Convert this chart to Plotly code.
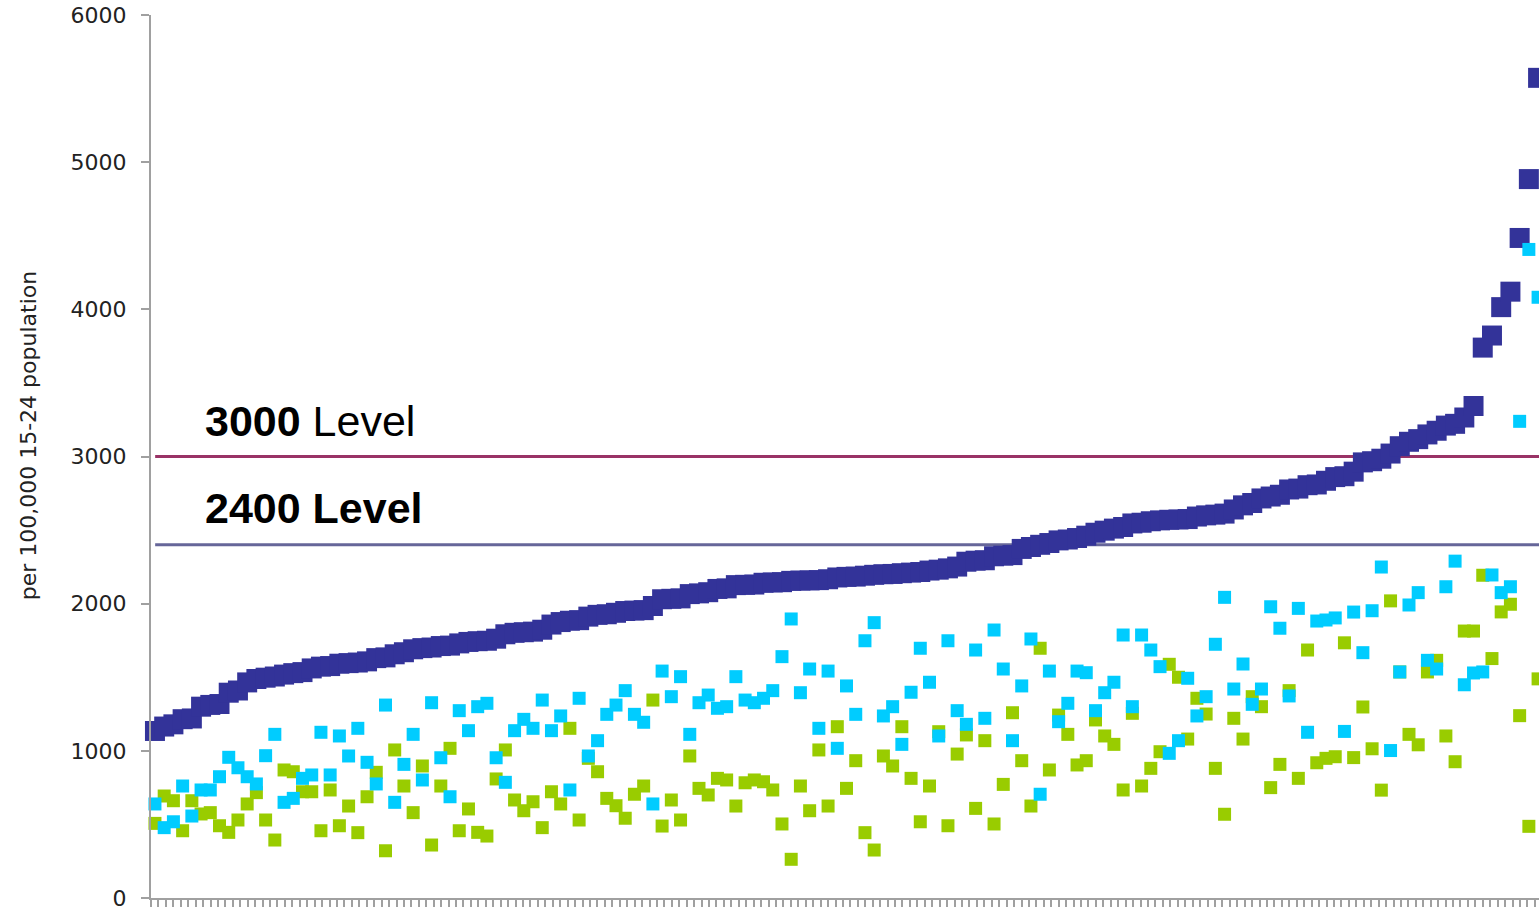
import plotly.graph_objects as go

# ---------------- data ----------------
DARK = [1135, 1165, 1180, 1215, 1220, 1300, 1312, 1318, 1395, 1410,
        1465, 1488, 1497, 1505, 1518, 1528, 1535, 1560, 1572, 1576,
        1592, 1596, 1600, 1608, 1630, 1635, 1656, 1670, 1690, 1698,
        1702, 1712, 1715, 1730, 1740, 1745, 1748, 1762, 1792, 1802,
        1806, 1810, 1823, 1858, 1875, 1884, 1888, 1912, 1924, 1928,
        1938, 1950, 1953, 1956, 1984, 2030, 2033, 2036, 2065, 2070,
        2078, 2100, 2104, 2126, 2128, 2130, 2142, 2144, 2146, 2155,
        2157, 2158, 2160, 2166, 2178, 2182, 2184, 2190, 2196, 2200,
        2202, 2207, 2211, 2215, 2225, 2231, 2240, 2252, 2285, 2292,
        2295, 2322, 2326, 2330, 2372, 2385, 2400, 2412, 2430, 2436,
        2446, 2462, 2482, 2496, 2510, 2521, 2545, 2550, 2560, 2566,
        2570, 2572, 2575, 2592, 2600, 2605, 2612, 2640, 2668, 2684,
        2715, 2728, 2740, 2776, 2782, 2805, 2810, 2835, 2860, 2866,
        2897, 2960, 2968, 2985, 3020, 3070, 3100, 3118, 3150, 3175,
        3210, 3222, 3265, 3343, 3740, 3822, 4015, 4120, 4485, 4885,
        5573]

CYAN = [639, 478, 518, 761, 557, 734, 734, 824, 956, 885,
        824, 775, 967, 1112, 650, 677, 813, 836, 1126, 836,
        1101, 965, 1153, 922, 775, 1311, 650, 908, 1112, 802,
        1327, 953, 688, 1273, 1137, 1300, 1323, 953, 786, 1137,
        1214, 1153, 1345, 1137, 1237, 734, 1357, 965, 1069, 1248,
        1311, 1409, 1248, 1194, 639, 1542, 1368, 1504, 1112, 1327,
        1379, 1289, 1300, 1504, 1345, 1327, 1357, 1409, 1640, 1896,
        1395, 1556, 1153, 1542, 1017, 1441, 1248, 1748, 1871, 1237,
        1300, 1044, 1398, 1697, 1466, 1101, 1748, 1273, 1180, 1685,
        1221, 1821, 1556, 1069, 1441, 1760, 705, 1542, 1198, 1323,
        1542, 1531, 1273, 1395, 1466, 1787, 1300, 1787, 1685, 1572,
        983, 1069, 1493, 1237, 1368, 1724, 2043, 1420, 1590, 1316,
        1420, 1979, 1833, 1373, 1968, 1126, 1882, 1889, 1903, 1132,
        1943, 1667, 1952, 2249, 1002, 1536, 1991, 2075, 1615, 1556,
        2115, 2289, 1449, 1529, 1536, 2195, 2075, 2115, 3239, 4407,
        4082]

GREEN = [507, 693, 661, 457, 661, 571, 580, 491, 446, 530,
         639, 716, 530, 394, 870, 858, 722, 722, 457, 734,
         491, 625, 444, 688, 854, 321, 1006, 761, 580, 897,
         360, 761, 1017, 457, 605, 446, 421, 809, 1006, 666,
         593, 654, 478, 722, 639, 1153, 530, 949, 858, 677,
         627, 542, 705, 761, 1345, 489, 666, 530, 965, 745,
         700, 813, 802, 625, 783, 802, 790, 734, 503, 263,
         761, 593, 1006, 625, 1164, 745, 933, 444, 326, 965,
         897, 1164, 813, 518, 761, 1130, 491, 978, 1108, 609,
         1069, 503, 772, 1259, 933, 625, 1697, 870, 1243, 1112,
         904, 933, 1210, 1101, 1044, 734, 1255, 761, 881, 994,
         1588, 1500, 1080, 1357, 1250, 881, 569, 1221, 1080, 1368,
         1300, 750, 908, 1409, 813, 1685, 919, 949, 960, 1734,
         954, 1298, 1014, 733, 2019, 1536, 1112, 1041, 1536, 1615,
         1101, 926, 1814, 1814, 2193, 1627, 1944, 1996, 1239, 487,
         1489]

LEVELS = [3000, 2400]
LEVEL_TEXT = ["<b>3000</b> Level", "<b>2400 Level</b>"]
Y_TICKS = [0, 1000, 2000, 3000, 4000, 5000, 6000]
Y_TITLE = "per 100,000 15-24 population"

# ---------------- styling ----------------
DARK_COLOR = "#333399"
CYAN_COLOR = "#00CCFF"
GREEN_COLOR = "#99CC00"
LEVEL_COLORS = ["#993366", "#666699"]
AXIS_COLOR = "#A0A0A0"

x = list(range(1, len(DARK) + 1))
X_RANGE = [0.57, 151.1]
N_XTICKS = 187
TICK_STEP = 0.8069
xticks = [X_RANGE[0] + j * TICK_STEP for j in range(N_XTICKS)]

fig = go.Figure()
fig.add_trace(go.Scatter(x=x, y=DARK, mode="markers", cliponaxis=False,
                         marker=dict(symbol="square", size=20, color=DARK_COLOR,
                                     line=dict(width=0))))
fig.add_trace(go.Scatter(x=x, y=GREEN, mode="markers", cliponaxis=False,
                         marker=dict(symbol="square", size=13, color=GREEN_COLOR,
                                     line=dict(width=0))))
fig.add_trace(go.Scatter(x=x, y=CYAN, mode="markers", cliponaxis=False,
                         marker=dict(symbol="square", size=13, color=CYAN_COLOR,
                                     line=dict(width=0))))

for lvl, col in zip(LEVELS, LEVEL_COLORS):
    fig.add_shape(type="line", xref="paper", yref="y", x0=0.003, x1=1.0,
                  y0=lvl, y1=lvl, line=dict(color=col, width=3), layer="below")

label_y = [3241, 2653]
for txt, yy in zip(LEVEL_TEXT, label_y):
    fig.add_annotation(text=txt, xref="paper", yref="y", x=0.0375, y=yy,
                       xanchor="left", yanchor="middle", showarrow=False,
                       font=dict(family="Liberation Sans, Arial", size=43, color="#000000"))

fig.add_annotation(text=Y_TITLE, xref="paper", yref="paper", x=-0.0886, y=0.524,
                   xanchor="center", yanchor="middle", textangle=-90, showarrow=False,
                   font=dict(family="DejaVu Sans, Verdana", size=22, color="#222222"))

fig.update_xaxes(range=X_RANGE, tickmode="array", tickvals=xticks,
                 ticks="outside", ticklen=7, tickwidth=2, tickcolor=AXIS_COLOR,
                 showticklabels=False, showline=True, linecolor=AXIS_COLOR, linewidth=2,
                 showgrid=False, zeroline=False)
fig.update_yaxes(range=[0, 6000], tickmode="array", tickvals=Y_TICKS,
                 ticktext=[str(v) for v in Y_TICKS],
                 ticks="outside", ticklen=8, tickwidth=2, tickcolor=AXIS_COLOR,
                 tickfont=dict(family="DejaVu Sans, Verdana", size=22, color="#222222"),
                 ticklabelstandoff=10,
                 showline=True, linecolor=AXIS_COLOR, linewidth=2,
                 showgrid=False, zeroline=False)

fig.update_layout(width=1539, height=913, showlegend=False,
                  margin=dict(l=151, r=0, t=15, b=15),
                  plot_bgcolor="#FFFFFF", paper_bgcolor="#FFFFFF")

fig.write_html("out.html", config={"displayModeBar": False},
               post_script="document.body.style.margin='0';document.body.style.overflow='hidden';")
